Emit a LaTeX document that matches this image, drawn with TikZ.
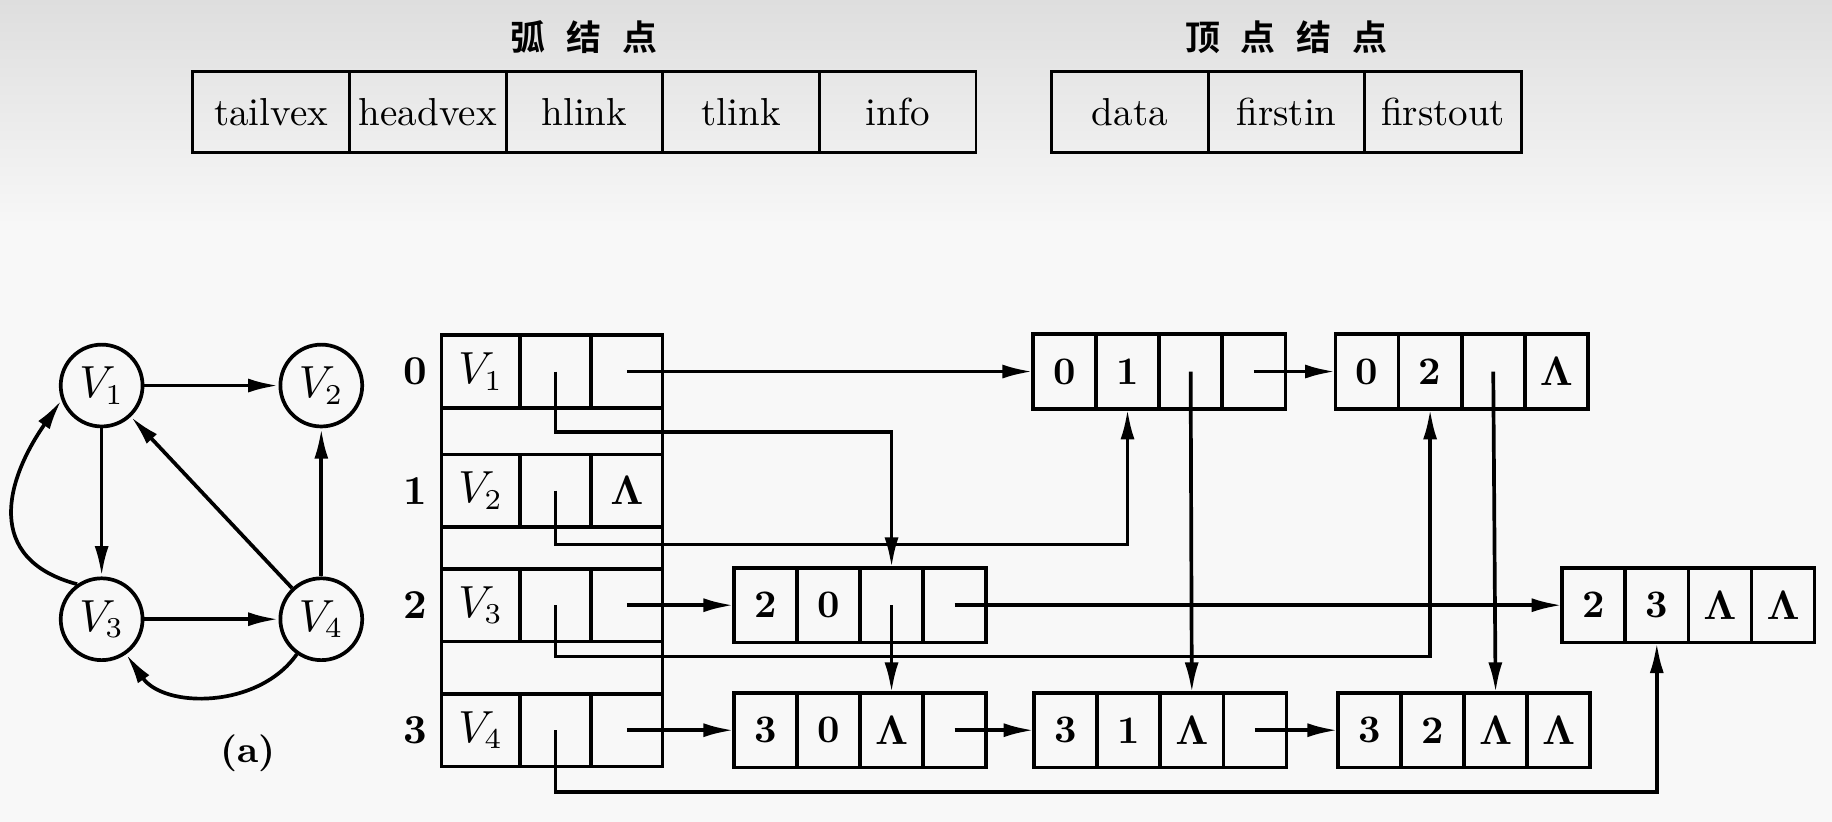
\documentclass[tikz,border=0pt]{standalone}
\usepackage[no-math]{fontspec}
\usepackage{tikz}
\usetikzlibrary{positioning,arrows.meta}
\newfontfamily\cjk{Noto Sans CJK SC Bold}
\definecolor{paper}{RGB}{248,248,248}
\definecolor{papertop}{RGB}{222,222,222}

\begin{document}
\begin{tikzpicture}[x=0.01cm, y=-0.01cm,
    field/.style={draw, line width=0.7pt, outer sep=0pt, inner sep=0pt, minimum width=1.34cm, minimum height=0.69cm, font=\fontsize{9.5}{11}\selectfont},
    slot/.style={draw, line width=0.9pt, outer sep=0pt, inner sep=0pt, minimum width=0.54cm, minimum height=0.64cm, font=\bfseries\fontsize{9.5}{11}\selectfont},
    vslot/.style={draw, line width=0.9pt, outer sep=0pt, inner sep=0pt, minimum width=0.61cm, minimum height=0.62cm, font=\fontsize{10.5}{12}\selectfont},
    vtx/.style={draw, circle, line width=0.9pt, inner sep=0pt, minimum size=0.70cm, font=\fontsize{10.5}{12}\selectfont},
    rowlab/.style={font=\bfseries\fontsize{10}{12}\selectfont},
    ptr/.style={line width=0.9pt, -{Latex[length=2.6mm,width=1.2mm]}},
    nil/.style={font=\fontsize{10}{12}\selectfont}
]
    % paper
    \fill[paper] (0,0) rectangle (1568,703.5);
    \shade[top color=papertop, bottom color=paper] (0,0) rectangle (1568,200);
    \useasboundingbox (0,0) rectangle (1568,703.5);

    % arc node layout
    \node[font=\cjk\fontsize{8.5}{10}\selectfont] (arctitle) at (500,32) {弧\hspace{0.6em}结\hspace{0.6em}点};
    \node[field, anchor=west] (ftail) at (165,96) {tailvex};
    \node[field, right=0pt of ftail] (fhead) {headvex};
    \node[field, right=0pt of fhead] (fhlink) {hlink};
    \node[field, right=0pt of fhlink] (ftlink) {tlink};
    \node[field, right=0pt of ftlink] (finfo) {info};

    % vertex node layout
    \node[font=\cjk\fontsize{8.5}{10}\selectfont] (vtxtitle) at (1101,32) {顶\hspace{0.6em}点\hspace{0.6em}结\hspace{0.6em}点};
    \node[field, anchor=west] (fdata) at (900,96) {data};
    \node[field, right=0pt of fdata] (fin) {firstin};
    \node[field, right=0pt of fin] (fout) {firstout};

    % (a) the digraph
    \node[vtx] (V1) at (87,330) {$V_1$};
    \node[vtx] (V2) at (275,330) {$V_2$};
    \node[vtx] (V3) at (87,530) {$V_3$};
    \node[vtx] (V4) at (275,530) {$V_4$};
    \draw[ptr] (V1) -- (V2);
    \draw[ptr] (V1) -- (V3);
    \draw[ptr] (V4) -- (V2);
    \draw[ptr] (V3) -- (V4);
    \draw[ptr] (V4) -- (V1);
    \draw[ptr] (V3.125) to[out=165, in=235, looseness=1.35] (V1.200);
    \draw[ptr] (V4.235) to[out=235, in=305] (V3.305);
    \node[font=\bfseries\fontsize{9}{11}\selectfont] (capa) at (212,645) {(a)};

    % (b) vertex table
    \node[vslot, minimum width=0.67cm, anchor=west] (v0d) at (378,318) {$V_1$};
    \node[vslot, right=0pt of v0d] (v0i) {};
    \node[vslot, right=0pt of v0i] (v0o) {};
    \node[vslot, minimum width=0.67cm, anchor=west] (v1d) at (378,420) {$V_2$};
    \node[vslot, right=0pt of v1d] (v1i) {};
    \node[vslot, right=0pt of v1i, nil] (v1o) {$\mathbf{\Lambda}$};
    \node[vslot, minimum width=0.67cm, anchor=west] (v2d) at (378,518) {$V_3$};
    \node[vslot, right=0pt of v2d] (v2i) {};
    \node[vslot, right=0pt of v2i] (v2o) {};
    \node[vslot, minimum width=0.67cm, anchor=west] (v3d) at (378,625) {$V_4$};
    \node[vslot, right=0pt of v3d] (v3i) {};
    \node[vslot, right=0pt of v3i] (v3o) {};
    \draw[line width=0.9pt] (v0d.north west) -- (v3d.south west);
    \draw[line width=0.9pt] (v0o.north east) -- (v3o.south east);
    \node[rowlab, left=0pt of v0d] (r0) {0};
    \node[rowlab, left=0pt of v1d] (r1) {1};
    \node[rowlab, left=0pt of v2d] (r2) {2};
    \node[rowlab, left=0pt of v3d] (r3) {3};

    % arc nodes
    \node[slot, anchor=west] (a01t) at (884,318) {0};
    \node[slot, right=0pt of a01t] (a01h) {1};
    \node[slot, right=0pt of a01h] (a01hl) {};
    \node[slot, right=0pt of a01hl] (a01tl) {};

    \node[slot, anchor=west] (a02t) at (1143,318) {0};
    \node[slot, right=0pt of a02t] (a02h) {2};
    \node[slot, right=0pt of a02h] (a02hl) {};
    \node[slot, right=0pt of a02hl, nil] (a02tl) {$\mathbf{\Lambda}$};

    \node[slot, anchor=west] (a20t) at (628,518) {2};
    \node[slot, right=0pt of a20t] (a20h) {0};
    \node[slot, right=0pt of a20h] (a20hl) {};
    \node[slot, right=0pt of a20hl] (a20tl) {};

    \node[slot, anchor=west] (a23t) at (1337,518) {2};
    \node[slot, right=0pt of a23t] (a23h) {3};
    \node[slot, right=0pt of a23h, nil] (a23hl) {$\mathbf{\Lambda}$};
    \node[slot, right=0pt of a23hl, nil] (a23tl) {$\mathbf{\Lambda}$};

    \node[slot, anchor=west] (a30t) at (628,625) {3};
    \node[slot, right=0pt of a30t] (a30h) {0};
    \node[slot, right=0pt of a30h, nil] (a30hl) {$\mathbf{\Lambda}$};
    \node[slot, right=0pt of a30hl] (a30tl) {};

    \node[slot, anchor=west] (a31t) at (885,625) {3};
    \node[slot, right=0pt of a31t] (a31h) {1};
    \node[slot, right=0pt of a31h, nil] (a31hl) {$\mathbf{\Lambda}$};
    \node[slot, right=0pt of a31hl] (a31tl) {};

    \node[slot, anchor=west] (a32t) at (1145,625) {3};
    \node[slot, right=0pt of a32t] (a32h) {2};
    \node[slot, right=0pt of a32h, nil] (a32hl) {$\mathbf{\Lambda}$};
    \node[slot, right=0pt of a32hl, nil] (a32tl) {$\mathbf{\Lambda}$};

    % firstout pointers and tlinks
    \draw[ptr] (v0o.center) -- (a01t.west);
    \draw[ptr] (v2o.center) -- (a20t.west);
    \draw[ptr] (v3o.center) -- (a30t.west);
    \draw[ptr] (a01tl.center) -- (a02t.west);
    \draw[ptr] (a20tl.center) -- (a23t.west);
    \draw[ptr] (a30tl.center) -- (a31t.west);
    \draw[ptr] (a31tl.center) -- (a32t.west);

    % firstin pointers and hlinks
    \draw[ptr] (v0i.center) -- ++(0,52) -| (a20hl.north);
    \draw[ptr] (v1i.center) -- ++(0,46) -| (a01h.south);
    \draw[ptr] (v2i.center) -- ++(0,44) -| (a02h.south);
    \draw[ptr] (v3i.center) -- ++(0,53) -| (a23h.south);
    \draw[ptr] (a01hl.center) -- (a31hl.north);
    \draw[ptr] (a02hl.center) -- (a32hl.north);
    \draw[ptr] (a20hl.center) -- (a30hl.north);
\end{tikzpicture}
\end{document}
